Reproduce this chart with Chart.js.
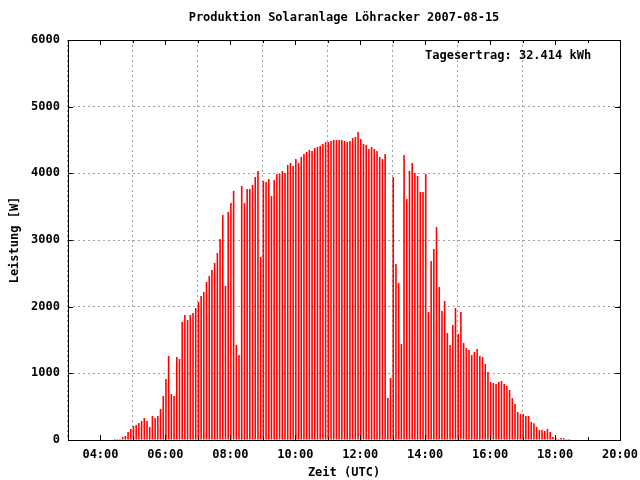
<!DOCTYPE html>
<html>
<head>
<meta charset="utf-8">
<script src="https://cdn.jsdelivr.net/npm/chart.js@4/dist/chart.umd.min.js"></script>
<style>
  body { margin: 0; background: #fff; }
  canvas { display: block; }
</style>
</head>
<body>
<canvas id="myChart" width="640" height="480"></canvas>
<script>
// one sample every 5 minutes, the first one at 04:26 UTC
const firstSample = "04:26";
const sampleStep = 5;

// Leistung [W]
const power = [
  15, 15, 15, 45, 60, 120, 165, 210, 225, 255, 285, 330,
  285, 195, 360, 330, 360, 465, 660, 915, 1260, 690, 660, 1245,
  1215, 1770, 1875, 1800, 1875, 1905, 1980, 2070, 2160, 2220, 2370, 2460,
  2550, 2655, 2805, 3015, 3375, 2310, 3420, 3555, 3735, 1425, 1275, 3810,
  3555, 3765, 3765, 3825, 3945, 4035, 2745, 3885, 3870, 3915, 3660, 3900,
  3990, 3990, 4035, 4005, 4125, 4155, 4110, 4215, 4155, 4245, 4290, 4320,
  4350, 4335, 4380, 4395, 4410, 4440, 4470, 4470, 4485, 4500, 4500, 4500,
  4500, 4485, 4470, 4485, 4530, 4545, 4620, 4515, 4440, 4425, 4365, 4395,
  4365, 4335, 4245, 4215, 4290, 630, 930, 3945, 2640, 2355, 1440, 4275,
  3615, 4035, 4155, 4005, 3960, 3720, 3720, 3990, 1920, 2685, 2865, 3195,
  2295, 1935, 2085, 1605, 1425, 1725, 1980, 1590, 1920, 1455, 1380, 1350,
  1275, 1320, 1365, 1260, 1245, 1140, 1020, 870, 855, 840, 870, 885,
  840, 810, 750, 630, 540, 420, 390, 390, 360, 360, 270, 250,
  195, 150, 150, 135, 165, 120, 45, 30, 15, 30, 30, 15,
  15
];

const xTickLabels = ["04:00", "06:00", "08:00", "10:00", "12:00", "14:00", "16:00", "18:00", "20:00"];
const yTickLabels = ["0", "1000", "2000", "3000", "4000", "5000", "6000"];
const titleText = "Produktion Solaranlage Löhracker 2007-08-15";
const yieldText = "Tagesertrag: 32.414 kWh";

const FONT = "'DejaVu Sans Mono', 'Liberation Mono', monospace";

function toMinutes(hhmm) {
  const p = hhmm.split(":");
  return parseInt(p[0]) * 60 + parseInt(p[1]);
}

const t0 = toMinutes(firstSample);
const points = power.map((v, i) => ({ x: t0 + i * sampleStep, y: v }));
const majorX = xTickLabels.map(toMinutes);

// gnuplot style frame, inward tics, title and the yield label
const framePlugin = {
  id: "frame",
  afterDraw(chart) {
    const ctx = chart.ctx;
    const a = chart.chartArea;
    const xs = chart.scales.x;
    const ys = chart.scales.y;
    ctx.save();
    ctx.strokeStyle = "#000";
    ctx.lineWidth = 1;
    ctx.beginPath();
    for (let m = 180; m <= 1200; m += 60) {
      const px = Math.round(xs.getPixelForValue(m)) + 0.5;
      const len = majorX.includes(m) ? 5 : 3;
      ctx.moveTo(px, a.bottom);
      ctx.lineTo(px, a.bottom - len);
      ctx.moveTo(px, a.top);
      ctx.lineTo(px, a.top + len);
    }
    yTickLabels.forEach((l) => {
      const py = Math.round(ys.getPixelForValue(+l)) + 0.5;
      ctx.moveTo(a.left, py);
      ctx.lineTo(a.left + 5, py);
      ctx.moveTo(a.right, py);
      ctx.lineTo(a.right - 5, py);
    });
    ctx.stroke();
    ctx.strokeRect(Math.round(a.left) + 0.5, Math.round(a.top) + 0.5,
      Math.round(a.right - a.left), Math.round(a.bottom - a.top));

    ctx.fillStyle = "#000";
    ctx.font = "bold 12px " + FONT;
    ctx.textBaseline = "middle";
    ctx.textAlign = "center";
    ctx.fillText(titleText, (a.left + a.right) / 2, 18);
    ctx.textAlign = "left";
    ctx.fillText(yieldText, 425, 56);
    ctx.restore();
  }
};

const ctx = document.getElementById("myChart").getContext("2d");
new Chart(ctx, {
  type: "bar",
  data: {
    datasets: [{
      data: points,
      backgroundColor: "#ff0000",
      borderWidth: 0,
      barThickness: 1.6,
      inflateAmount: 0
    }]
  },
  options: {
    responsive: false,
    animation: false,
    layout: { padding: { top: 40, right: 20, left: 0, bottom: 0 } },
    plugins: {
      legend: { display: false },
      tooltip: { enabled: false }
    },
    scales: {
      x: {
        type: "linear",
        min: 180,
        max: 1200,
        offset: false,
        afterFit: (s) => { s.height = 40; s.paddingLeft = 0; s.paddingRight = 0; },
        afterBuildTicks: (s) => { s.ticks = majorX.map((v) => ({ value: v })); },
        ticks: {
          autoSkip: false,
          maxRotation: 0,
          padding: 8,
          color: "#000",
          font: { family: FONT, size: 12, weight: "bold" },
          callback: (v) => xTickLabels[majorX.indexOf(v)]
        },
        grid: {
          drawTicks: false,
          color: (c) => (c.tick && c.tick.value < 1200 ? "#a0a0a0" : "rgba(0,0,0,0)"),
          lineWidth: 1
        },
        border: { display: false, dash: [2, 3] },
        title: {
          display: true,
          text: "Zeit (UTC)",
          color: "#000",
          font: { family: FONT, size: 12, weight: "bold" },
          padding: { top: 0, bottom: 0 }
        }
      },
      y: {
        min: 0,
        max: 6000,
        afterFit: (s) => { s.width = 68; s.paddingTop = 0; s.paddingBottom = 0; },
        afterBuildTicks: (s) => { s.ticks = yTickLabels.map((l) => ({ value: +l })); },
        ticks: {
          padding: 8,
          color: "#000",
          font: { family: FONT, size: 12, weight: "bold" },
          callback: (v) => yTickLabels[yTickLabels.indexOf(String(v))]
        },
        grid: {
          drawTicks: false,
          color: (c) => (c.tick && c.tick.value > 0 && c.tick.value < 6000 ? "#a0a0a0" : "rgba(0,0,0,0)"),
          lineWidth: 1
        },
        border: { display: false, dash: [2, 3] },
        title: {
          display: true,
          text: "Leistung [W]",
          color: "#000",
          font: { family: FONT, size: 12, weight: "bold" },
          padding: { top: 8, bottom: 0 }
        }
      }
    }
  },
  plugins: [framePlugin]
});
</script>
</body>
</html>
